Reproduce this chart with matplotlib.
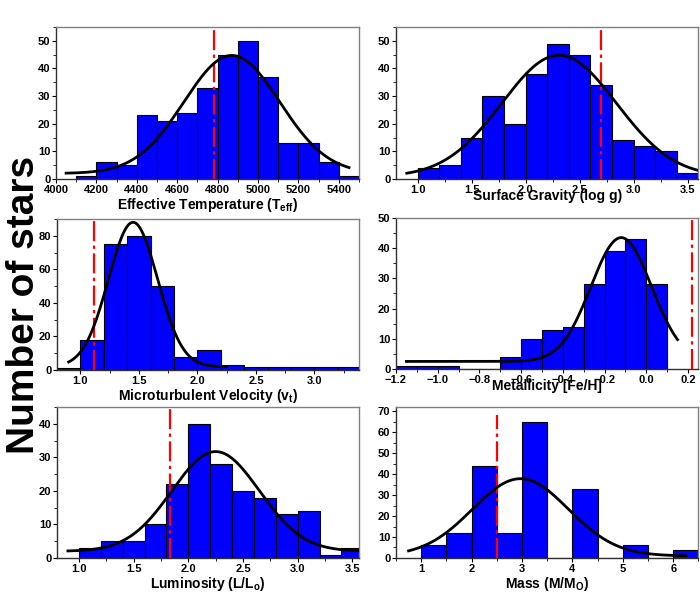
import numpy as np
import matplotlib.pyplot as plt
from matplotlib.ticker import MultipleLocator

plt.rcParams['font.family'] = ['Liberation Sans', 'DejaVu Sans']
plt.rcParams['font.weight'] = 'bold'
plt.rcParams['axes.labelweight'] = 'bold'
plt.rcParams['mathtext.fontset'] = 'custom'
plt.rcParams['mathtext.bf'] = 'Liberation Sans:bold'
plt.rcParams['mathtext.rm'] = 'Liberation Sans:bold'

# Histogram counts per bin (left edges + width)
teff_edges = [4100, 4200, 4300, 4400, 4500, 4600, 4700, 4800, 4900, 5000, 5100, 5200, 5300, 5400]
teff_counts = [1, 6, 5, 23, 21, 24, 33, 45, 50, 37, 13, 13, 6, 1]

logg_edges = [1.0, 1.2, 1.4, 1.6, 1.8, 2.0, 2.2, 2.4, 2.6, 2.8, 3.0, 3.2, 3.4]
logg_counts = [4, 5, 15, 30, 20, 38, 49, 45, 34, 14, 12, 10, 2]

vt_edges = [0.8, 1.0, 1.2, 1.4, 1.6, 1.8, 2.0, 2.2, 2.4, 2.6, 2.8, 3.0, 3.2]
vt_counts = [1, 18, 75, 80, 50, 8, 12, 3, 2, 1.5, 1.5, 1.5, 1.5]

feh_edges = [-1.2, -1.1, -1.0, -0.9, -0.8, -0.7, -0.6, -0.5, -0.4, -0.3, -0.2, -0.1, 0.0]
feh_counts = [1, 1, 1, 0, 0, 4, 10, 13, 14, 28, 39, 43, 28]

lum_edges = [1.0, 1.2, 1.4, 1.6, 1.8, 2.0, 2.2, 2.4, 2.6, 2.8, 3.0, 3.2, 3.4]
lum_counts = [3, 5, 5, 10, 22, 40, 28, 20, 18, 13, 14, 1, 3]

mass_edges = [1.0, 1.5, 2.0, 2.5, 3.0, 3.5, 4.0, 4.5, 5.0, 5.5, 6.0]
mass_counts = [6, 12, 44, 12, 65, 0, 33, 0, 6, 0, 4]

# Gaussian fit parameters: y0, amplitude, centre, width, x-range of the fit line
teff_fit = [2.0, 42.7, 4870, 237, 4050, 5450]
logg_fit = [0.8, 44.0, 2.31, 0.53, 0.9, 3.6]
vt_fit = [2.0, 86.0, 1.45, 0.21, 0.9, 2.25]
feh_fit = [2.5, 41.0, -0.12, 0.145, -1.15, 0.15]
lum_fit = [2.0, 29.7, 2.25, 0.40, 0.9, 3.6]
mass_fit = [1.0, 36.8, 2.97, 0.95, 0.75, 6.25]

# Reference values marked by the red dash-dot line
teff_ref = 4780
logg_ref = 2.7
vt_ref = 1.12
feh_ref = 0.22
lum_ref = 1.83
mass_ref = 2.5

panels = [
    dict(edges=teff_edges, counts=teff_counts, width=100, fit=teff_fit, ref=teff_ref,
         xlim=(4000, 5500), ylim=(0, 55), xmaj=200, xmin=100, ymaj=10, ymin=5,
         label='Effective Temperature (T$_{\\mathbf{eff}}$)', pad=1, reftop=1.0,
         pos=[0.080, 0.6997, 0.433, 0.255]),
    dict(edges=logg_edges, counts=logg_counts, width=0.2, fit=logg_fit, ref=logg_ref,
         xlim=(0.8, 3.6), ylim=(0, 55), xmaj=0.5, xmin=0.25, ymaj=10, ymin=5,
         label='Surface Gravity (log g)', pad=-4, reftop=1.0,
         pos=[0.5657, 0.6997, 0.432, 0.255]),
    dict(edges=vt_edges, counts=vt_counts, width=0.2, fit=vt_fit, ref=vt_ref,
         xlim=(0.8, 3.38), ylim=(0, 90), xmaj=0.5, xmin=0.25, ymaj=20, ymin=10,
         label='Microturbulent Velocity (v$_{\\mathbf{t}}$)', pad=1, reftop=1.0,
         pos=[0.0814, 0.3792, 0.4314, 0.2534]),
    dict(edges=feh_edges, counts=feh_counts, width=0.1, fit=feh_fit, ref=feh_ref,
         xlim=(-1.2, 0.25), ylim=(0, 50), xmaj=0.2, xmin=0.1, ymaj=10, ymin=5,
         label='Metallicity [Fe/H]', pad=-4, reftop=1.0,
         pos=[0.5657, 0.3809, 0.432, 0.2534]),
    dict(edges=lum_edges, counts=lum_counts, width=0.2, fit=lum_fit, ref=lum_ref,
         xlim=(0.8, 3.56), ylim=(0, 45), xmaj=0.5, xmin=0.25, ymaj=10, ymin=5,
         label='Luminosity (L/L$_{\\mathbf{o}}$)', pad=1, reftop=1.0,
         pos=[0.0814, 0.0638, 0.4314, 0.2534]),
    dict(edges=mass_edges, counts=mass_counts, width=0.5, fit=mass_fit, ref=mass_ref,
         xlim=(0.5, 6.5), ylim=(0, 72), xmaj=1, xmin=0.5, ymaj=10, ymin=5,
         label='Mass (M/M$_{\\mathbf{O}}$)', pad=1, reftop=68 / 72,
         pos=[0.5657, 0.0638, 0.432, 0.2534]),
]

fig = plt.figure(figsize=(7, 5.96), dpi=100)

for p in panels:
    ax = fig.add_axes(p['pos'])
    ax.bar(p['edges'], p['counts'], width=p['width'], align='edge',
           color='#0000ff', edgecolor='black', linewidth=0.8, zorder=2)

    y0, amp, xc, w, xa, xb = p['fit']
    xs = np.linspace(xa, xb, 300)
    ax.plot(xs, y0 + amp * np.exp(-(xs - xc) ** 2 / (2 * w ** 2)),
            color='black', lw=2, zorder=4)

    ax.axvline(p['ref'], ymin=0, ymax=p['reftop'], color='red', lw=1.6,
               dashes=[9, 2, 1.5, 2], zorder=3)

    ax.set_xlim(*p['xlim'])
    ax.set_ylim(*p['ylim'])
    ax.xaxis.set_major_locator(MultipleLocator(p['xmaj']))
    ax.xaxis.set_minor_locator(MultipleLocator(p['xmin']))
    ax.yaxis.set_major_locator(MultipleLocator(p['ymaj']))
    ax.yaxis.set_minor_locator(MultipleLocator(p['ymin']))
    ax.tick_params(which='major', direction='out', length=3, width=0.8,
                   labelsize=8, pad=1)
    ax.tick_params(which='minor', direction='out', length=2, width=0.6)
    for lab in ax.get_xticklabels() + ax.get_yticklabels():
        lab.set_fontweight('bold')

    for side in ['top', 'right']:
        ax.spines[side].set_color('#808080')
    for side in ['left', 'bottom']:
        ax.spines[side].set_color('#303030')
    for s in ax.spines.values():
        s.set_linewidth(1.0)

    ax.set_xlabel(p['label'], fontsize=10, fontweight='bold', labelpad=p['pad'])

fig.text(0.034, 0.488, 'Number of stars', rotation=90, ha='center', va='center',
         fontsize=28, fontweight='bold')

plt.savefig('out.png', dpi=100)
